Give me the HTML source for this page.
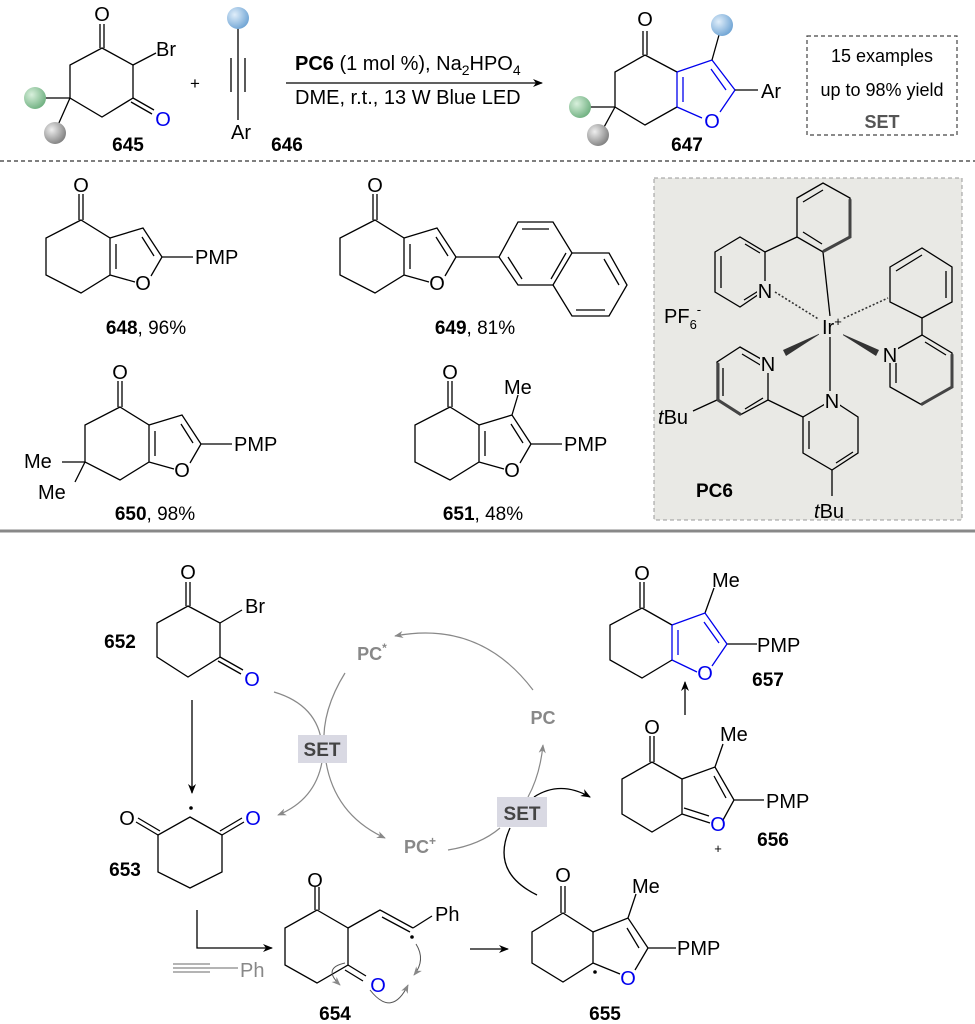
<!DOCTYPE html>
<html><head><meta charset="utf-8"><style>
html,body{margin:0;padding:0;background:#fff}
svg{display:block}
text{font-family:"Liberation Sans",Arial,sans-serif}
</style></head><body>
<svg width="975" height="1024" viewBox="0 0 975 1024" xmlns="http://www.w3.org/2000/svg">
<defs>
<marker id="ab" viewBox="0 0 10 10" refX="9" refY="5" markerWidth="10" markerHeight="10" orient="auto" markerUnits="userSpaceOnUse"><path d="M0,1 L10,5 L0,9 L3,5 Z" fill="#000"/></marker>
<marker id="ag" viewBox="0 0 10 10" refX="9" refY="5" markerWidth="9" markerHeight="9" orient="auto" markerUnits="userSpaceOnUse"><path d="M0,1 L10,5 L0,9 L3,5 Z" fill="#888"/></marker>
<radialGradient id="gG" cx="0.35" cy="0.35" r="0.7"><stop offset="0" stop-color="#d8f0dc"/><stop offset="1" stop-color="#6fb080"/></radialGradient>
<radialGradient id="gY" cx="0.35" cy="0.35" r="0.7"><stop offset="0" stop-color="#eeeeee"/><stop offset="1" stop-color="#808080"/></radialGradient>
<radialGradient id="gB" cx="0.35" cy="0.35" r="0.7"><stop offset="0" stop-color="#e0eefa"/><stop offset="1" stop-color="#6fa4d4"/></radialGradient>
</defs>

<g stroke="#000" stroke-width="1.3" fill="none">
<path d="M102,48 L133,65 L133,98 L102,117 L70,98 L70,65 Z"/>
<path d="M100,48 L100,24 M104,48 L104,24"/>
<path d="M133,65 L156,53"/>
<path d="M133,98 L154,110 M131,102 L152,114"/>
<path d="M70,98 L45,98 M70,98 L58,125"/>
<path d="M238,28 L238,120 M231,58 L231,92 M245,58 L245,92"/>
<path d="M286,83 L542,83" marker-end="url(#ab)"/>
</g>
<circle cx="35" cy="98" r="11" fill="url(#gG)"/>
<circle cx="55" cy="133" r="11" fill="url(#gY)"/>
<circle cx="238" cy="18" r="11" fill="url(#gB)"/>
<g font-size="20" fill="#000">
<text x="102" y="21" text-anchor="middle">O</text>
<text x="156" y="56">Br</text>
<text x="163" y="126" text-anchor="middle" fill="#0000ee">O</text>
<text x="128" y="151" text-anchor="middle" font-weight="bold" font-size="19">645</text>
<text x="195" y="89" text-anchor="middle" font-size="17">+</text>
<text x="241" y="139" text-anchor="middle">Ar</text>
<text x="287" y="151" text-anchor="middle" font-weight="bold" font-size="19">646</text>
<text x="295" y="70" font-size="20"><tspan font-weight="bold">PC6</tspan> (1 mol %), Na<tspan font-size="14" dy="5">2</tspan><tspan dy="-5">HPO</tspan><tspan font-size="14" dy="5">4</tspan></text>
<text x="295" y="104" font-size="20">DME, r.t., 13 W Blue LED</text>
</g>

<!-- 647 -->
<g transform="translate(645,55)" stroke-width="1.3" fill="none">
<path d="M0,0 L-30,17 L-30,52 L0,70 L32,52" stroke="#000"/>
<path d="M0,0 L32,17" stroke="#000"/>
<path d="M-2,0 L-2,-24 M2,0 L2,-24" stroke="#000"/>
<path d="M32,17 L32,52 M32,17 L67,5 L90,35 L75,57 M57,63 L32,52 M38,22 L38,47 M66,14 L81,35" stroke="#0000ee"/>
<path d="M90,35 L113,35 M67,5 L74,-20 M-30,52 L-55,52 M-30,52 L-42,74" stroke="#000"/>
</g>
<circle cx="722" cy="25" r="11" fill="url(#gB)"/>
<circle cx="580" cy="107" r="11" fill="url(#gG)"/>
<circle cx="598" cy="135" r="11" fill="url(#gY)"/>
<g font-size="20">
<text x="645" y="26" text-anchor="middle">O</text>
<text x="712" y="128" text-anchor="middle" fill="#0000ee">O</text>
<text x="761" y="98">Ar</text>
<text x="687" y="151" text-anchor="middle" font-weight="bold" font-size="19">647</text>
</g>
<rect x="807" y="36" width="150" height="99" fill="none" stroke="#444" stroke-width="1.2" stroke-dasharray="4,3"/>
<g font-size="18" text-anchor="middle">
<text x="882" y="62">15 examples</text>
<text x="882" y="96">up to 98% yield</text>
<text x="882" y="128" font-weight="bold" fill="#555">SET</text>
</g>

<line x1="0" y1="161" x2="975" y2="161" stroke="#333" stroke-width="1.2" stroke-dasharray="4,3"/>

<!-- 648 -->
<g transform="translate(81,220)" stroke="#000" stroke-width="1.3" fill="none">
<path d="M0,0 L-35,18 L-35,55 L0,73 L29,55 L29,18 Z M-2,0 L-2,-26 M2,0 L2,-26 M29,18 L62,8 L81,37 L70,56 M54,62 L29,55 M35,24 L35,49 M61,17 L73,36 M81,37 L112,37"/>
</g>
<g font-size="20"><text x="81" y="192" text-anchor="middle">O</text><text x="62" y="290" text-anchor="middle" transform="translate(81,0)">O</text><text x="195" y="264">PMP</text>
<text x="146" y="334" text-anchor="middle" font-size="19"><tspan font-weight="bold">648</tspan>, 96%</text></g>

<!-- 649 -->
<g transform="translate(375,220)" stroke="#000" stroke-width="1.3" fill="none">
<path d="M0,0 L-35,18 L-35,55 L0,73 L29,55 L29,18 Z M-2,0 L-2,-26 M2,0 L2,-26 M29,18 L62,8 L81,37 L70,56 M54,62 L29,55 M35,24 L35,49 M61,17 L73,36 M81,37 L124,37"/>
</g>
<g stroke="#000" stroke-width="1.3" fill="none">
<path d="M499,257 L518,222 L553,222 L572,253 L553,285 L518,285 Z"/>
<path d="M572,253 L609,253 L627,285 L609,316 L572,316 L553,285"/>
<path d="M522,229 L549,229 M522,279 L508,257 M604,259 L619,285 M576,310 L605,310 M566,253 L551,279"/>
</g>
<g font-size="20"><text x="375" y="192" text-anchor="middle">O</text><text x="437" y="290" text-anchor="middle">O</text>
<text x="475" y="334" text-anchor="middle" font-size="19"><tspan font-weight="bold">649</tspan>, 81%</text></g>

<!-- 650 -->
<g transform="translate(120,407)" stroke="#000" stroke-width="1.3" fill="none">
<path d="M0,0 L-35,18 L-35,55 L0,73 L29,55 L29,18 Z M-2,0 L-2,-26 M2,0 L2,-26 M29,18 L62,8 L81,37 L70,56 M54,62 L29,55 M35,24 L35,49 M61,17 L73,36 M81,37 L112,37 M-35,55 L-58,55 M-35,55 L-45,75"/>
</g>
<g font-size="20"><text x="120" y="379" text-anchor="middle">O</text><text x="182" y="477" text-anchor="middle">O</text><text x="234" y="451">PMP</text>
<text x="24" y="468">Me</text><text x="38" y="499">Me</text>
<text x="155" y="520" text-anchor="middle" font-size="19"><tspan font-weight="bold">650</tspan>, 98%</text></g>

<!-- 651 -->
<g transform="translate(450,407)" stroke="#000" stroke-width="1.3" fill="none">
<path d="M0,0 L-35,18 L-35,55 L0,73 L29,55 L29,18 Z M-2,0 L-2,-26 M2,0 L2,-26 M29,18 L62,8 L81,37 L70,56 M54,62 L29,55 M35,24 L35,49 M61,17 L73,36 M81,37 L112,37 M62,8 L68,-12"/>
</g>
<g font-size="20"><text x="450" y="379" text-anchor="middle">O</text><text x="512" y="477" text-anchor="middle">O</text><text x="564" y="451">PMP</text>
<text x="504" y="394">Me</text>
<text x="483" y="520" text-anchor="middle" font-size="19"><tspan font-weight="bold">651</tspan>, 48%</text></g>

<!-- PC6 box -->
<rect x="654" y="178" width="308" height="342" fill="#e9e9e5" stroke="#999" stroke-width="1" stroke-dasharray="4,3"/>
<g stroke="#000" stroke-width="1.3" fill="none">
<path d="M715,252 L740,237 L765,252 L765,290 L740,307 L715,292 Z M721,256 L721,288 M744,300 L760,290 M745,244 L760,253"/>
<path d="M797,198 L823,183 L850,198 L850,237 L823,252 L797,237 Z M803,202 L823,190 M803,232 L822,244"/>
<path d="M765,252 L797,237 M823,252 L830,316"/>
<path d="M890,267 L922,248 L952,267 L952,302 L922,318 L890,302 Z M896,271 L922,255 M946,271 L946,298"/>
<path d="M922,318 L922,335"/>
<path d="M890,353 L922,335 L952,353 L952,387 L922,405 L890,387 Z M896,357 L896,383 M925,342 L946,355"/>
<path d="M740,347 L768,363 L768,400 L740,415 L717,400 L717,362 Z M723,368 L723,396 M745,409 L763,398 M742,354 L762,366"/>
<path d="M768,400 L803,417"/>
<path d="M832,400 L858,417 L858,453 L832,470 L803,453 L803,417 Z M809,421 L809,449 M836,463 L853,452"/>
<path d="M717,400 L693,411 M832,470 L832,496 M830,337 L830,393"/>
</g>
<g stroke="#444" stroke-width="3" fill="none" stroke-linecap="round">
<path d="M850,200 L850,237 L824,251 M952,355 L952,387 L922,404 M718,364 L718,400 L740,414"/>
</g>
<path d="M823,332 L786,356 L783,350 Z" fill="#333"/>
<path d="M838,332 L879,350 L876,356 Z" fill="#333"/>
<g stroke="#333" stroke-width="1.6" stroke-dasharray="2,2"><path d="M775,292 L820,320 M840,320 L888,298"/></g>
<g fill="#e9e9e5"><rect x="757" y="281" width="16" height="19"/><rect x="819" y="316" width="24" height="20"/><rect x="882" y="344" width="16" height="19"/><rect x="760" y="354" width="16" height="19"/><rect x="824" y="391" width="16" height="19"/></g>
<g font-size="20">
<text x="765" y="298" text-anchor="middle">N</text>
<text x="822" y="334">Ir<tspan font-size="13" dy="-8">+</tspan></text>
<text x="890" y="362" text-anchor="middle">N</text>
<text x="768" y="371" text-anchor="middle">N</text>
<text x="832" y="408" text-anchor="middle">N</text>
<text x="664" y="323">PF<tspan font-size="13" dy="6">6</tspan><tspan font-size="13" dy="-15">-</tspan></text>
<text x="658" y="424"><tspan font-style="italic">t</tspan>Bu</text>
<text x="814" y="518"><tspan font-style="italic">t</tspan>Bu</text>
<text x="696" y="497" font-weight="bold" font-size="19">PC6</text>
</g>

<line x1="0" y1="531" x2="975" y2="531" stroke="#888" stroke-width="3"/>

<!-- 652 -->
<g stroke="#000" stroke-width="1.3" fill="none">
<path d="M188,606 L220,623 L220,657 L188,677 L157,657 L157,623 Z"/>
<path d="M186,606 L186,582 M190,606 L190,582 M220,623 L242,610 M220,657 L243,670 M218,661 L241,674"/>
<path d="M192,700 L192,793" marker-end="url(#ab)"/>
<path d="M190,817 L222,835 L222,872 L190,888 L158,872 L158,835 Z"/>
<path d="M222,835 L244,822 M220,831 L242,818 M158,835 L136,822 M160,831 L138,818"/>
<path d="M197,910 L197,948 L272,948" marker-end="url(#ab)"/>
</g>
<circle cx="191" cy="808" r="1.8" fill="#000"/>
<g font-size="20">
<text x="188" y="579" text-anchor="middle">O</text><text x="245" y="613">Br</text>
<text x="252" y="686" text-anchor="middle" fill="#0000ee">O</text>
<text x="120" y="648" text-anchor="middle" font-weight="bold" font-size="19">652</text>
<text x="127" y="825" text-anchor="middle">O</text>
<text x="253" y="825" text-anchor="middle" fill="#0000ee">O</text>
<text x="125" y="876" text-anchor="middle" font-weight="bold" font-size="19">653</text>
</g>

<!-- catalytic cycle -->
<g stroke="#888" stroke-width="1.2" fill="none">
<path d="M274,692 Q318,705 322,745"/>
<path d="M345,673 Q322,710 324,745"/>
<path d="M322,762 Q315,800 278,815" marker-end="url(#ag)"/>
<path d="M326,762 Q335,815 385,838" marker-end="url(#ag)"/>
<path d="M533,690 Q480,620 395,636" marker-end="url(#ag)"/>
<path d="M528,797 Q540,775 543,745" marker-end="url(#ag)"/>
<path d="M448,850 Q480,845 500,828"/>
</g>
<g stroke="#000" stroke-width="1.3" fill="none">
<path d="M534,797 Q560,780 590,797" marker-end="url(#ab)"/>
<path d="M510,828 Q490,872 537,895"/>
</g>
<rect x="298" y="735" width="49" height="28" fill="#d9d9e3"/>
<rect x="497" y="797" width="50" height="30" fill="#d9d9e3"/>
<g font-size="19" font-weight="bold" fill="#444" text-anchor="middle">
<text x="322" y="756">SET</text><text x="522" y="820">SET</text>
</g>
<g font-size="18" font-weight="bold" fill="#888" text-anchor="middle">
<text x="372" y="660">PC<tspan font-size="12" dy="-8">*</tspan></text>
<text x="543" y="724">PC</text>
<text x="420" y="853">PC<tspan font-size="12" dy="-8">+</tspan></text>
</g>

<!-- alkyne gray -->
<g stroke="#888" stroke-width="1.2"><path d="M173,964 L210,964 M173,968 L238,968 M173,972 L210,972"/></g>
<text x="240" y="977" font-size="20" fill="#888">Ph</text>

<!-- 654 -->
<g stroke="#000" stroke-width="1.3" fill="none">
<path d="M317,910 L348,928 L348,965 L317,983 L285,965 L285,928 Z"/>
<path d="M315,910 L315,887 M319,910 L319,887 M348,928 L380,910 L413,928 M382,917 L410,932 M413,928 L432,916 M348,965 L366,976 M345,970 L363,981"/>
<path d="M470,949 L508,949" marker-end="url(#ab)"/>
</g>
<g stroke="#555" stroke-width="1" fill="none">
<path d="M416,944 Q426,960 414,975" marker-end="url(#ag)"/>
<path d="M370,990 Q392,1018 408,985" marker-end="url(#ag)"/>
<path d="M345,963 Q322,968 340,985" marker-end="url(#ag)"/>
</g>
<circle cx="412" cy="937" r="1.8" fill="#000"/>
<g font-size="20">
<text x="315" y="887" text-anchor="middle">O</text>
<text x="435" y="921">Ph</text>
<text x="378" y="992" text-anchor="middle" fill="#0000ee">O</text>
<text x="335" y="1020" text-anchor="middle" font-weight="bold" font-size="19">654</text>
</g>

<!-- 655 -->
<g transform="translate(563,913)" stroke="#000" stroke-width="1.3" fill="none">
<path d="M0,0 L-31,19 L-31,50 L0,69 L30,50 L30,19 Z M-2,0 L-2,-27 M2,0 L2,-27 M30,19 L65,5 L85,35 L72,57 M57,61 L30,50 M64,15 L76,35 M85,35 L113,35 M65,5 L73,-19"/>
</g>
<circle cx="595" cy="972" r="1.8" fill="#000"/>
<g font-size="20">
<text x="563" y="882" text-anchor="middle">O</text>
<text x="628" y="985" text-anchor="middle" fill="#0000ee">O</text>
<text x="632" y="893">Me</text>
<text x="677" y="955">PMP</text>
<text x="605" y="1020" text-anchor="middle" font-weight="bold" font-size="19">655</text>
</g>

<!-- 656 -->
<g transform="translate(652,762)" stroke="#000" stroke-width="1.3" fill="none">
<path d="M0,0 L-30,17 L-30,52 L0,70 L30,52 M0,0 L30,17 L30,52 M-2,0 L-2,-26 M2,0 L2,-26 M30,17 L63,5 L82,38 L71,58 M30,52 L58,61 M32,46 L57,54 M62,14 L74,36 M82,38 L112,38 M63,5 L71,-18"/>
</g>
<g font-size="20">
<text x="652" y="734" text-anchor="middle">O</text>
<text x="718" y="831" text-anchor="middle" fill="#0000ee">O</text>
<text x="718" y="853" text-anchor="middle" font-size="13">+</text>
<text x="720" y="741">Me</text>
<text x="766" y="808">PMP</text>
<text x="773" y="846" text-anchor="middle" font-weight="bold" font-size="19">656</text>
</g>
<path d="M685,715 L685,682" stroke="#000" stroke-width="1.3" marker-end="url(#ab)"/>

<!-- 657 -->
<g transform="translate(642,608)" stroke-width="1.3" fill="none">
<path d="M0,0 L-32,17 L-32,52 L0,70 L30,52 M0,0 L30,17 M-2,0 L-2,-26 M2,0 L2,-26 M63,5 L72,-20 M85,36 L115,36" stroke="#000"/>
<path d="M30,17 L30,52 M30,17 L63,5 L85,36 L70,58 M55,64 L30,52 M36,22 L36,47 M62,14 L77,35" stroke="#0000ee"/>
</g>
<g font-size="20">
<text x="642" y="580" text-anchor="middle">O</text>
<text x="705" y="680" text-anchor="middle" fill="#0000ee">O</text>
<text x="712" y="587">Me</text>
<text x="757" y="652">PMP</text>
<text x="768" y="686" text-anchor="middle" font-weight="bold" font-size="19">657</text>
</g>
</svg>
</body></html>
